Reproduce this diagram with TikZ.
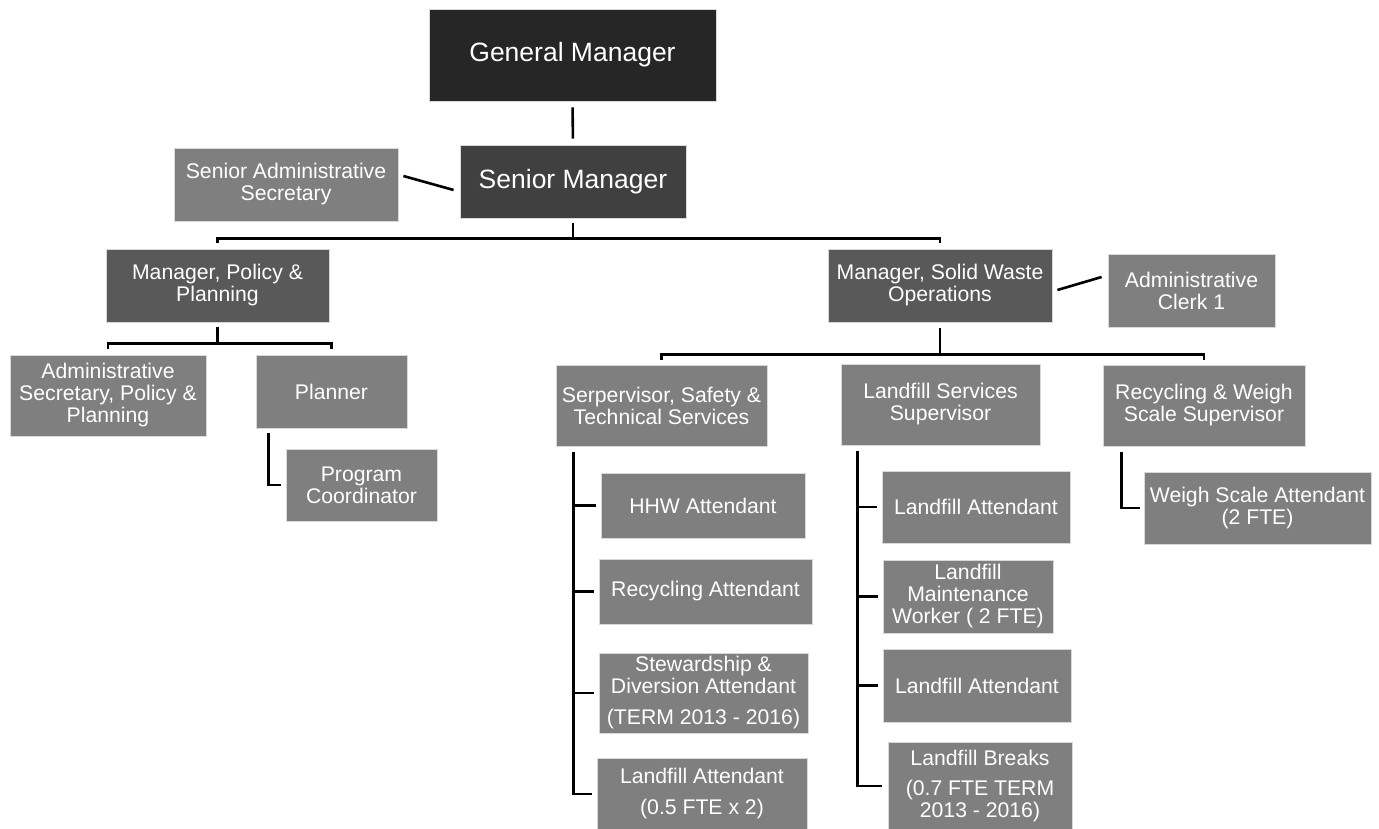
\documentclass[tikz,border=0pt]{standalone}
\usepackage{fontspec}
\setmainfont{Liberation Sans}
\usetikzlibrary{calc}
\definecolor{gtop}{RGB}{38,38,38}
\definecolor{gsen}{RGB}{64,64,64}
\definecolor{gmgr}{RGB}{89,89,89}
\definecolor{gpost}{RGB}{127,127,127}
\tikzset{post/.style={fill=gpost,draw=black!15,line width=0.8pt,text=white,align=center,
           inner sep=0pt,font={\fontsize{21.2}{22}\selectfont}},
         boss/.style={post,font={\fontsize{26.5}{28}\selectfont}},
         wh/.style 2 args={minimum width=#1pt,minimum height=#2pt},
         link/.style={black,line width=2.6pt}}

\begin{document}
\begin{tikzpicture}[x=1pt,y=-1pt]
    \useasboundingbox (0,0) rectangle (1379,829);
    % top of the chart
    \node[boss,fill=gtop,wh={287}{92}]  (gm)    at (572.5,55)    {General Manager};
    \node[boss,fill=gsen,wh={226}{73}]  (sm)    at (573,181.5)   {Senior Manager};
    \node[post,wh={224}{73}]            (sas)   at (286,184.5)   {Senior Administrative\\Secretary};
    \node[post,fill=gmgr,wh={223}{73}]  (mpp)   at (217.5,285.5) {Manager, Policy \&\\Planning};
    \node[post,fill=gmgr,wh={224}{73}]  (mswo)  at (940,285.5)   {Manager, Solid Waste\\Operations};
    \node[post,wh={167}{73}]            (clerk) at (1191.5,290.5) {Administrative\\Clerk 1};
    % policy & planning
    \node[post,wh={196}{81}] (aspp)    at (108,395.5)   {Administrative\\Secretary, Policy \&\\Planning};
    \node[post,wh={151}{73}] (planner) at (331.5,391.5) {Planner};
    \node[post,wh={151}{72}] (pc)      at (361.5,485)   {Program\\Coordinator};
    % solid waste operations
    \node[post,wh={211}{81}] (ssts) at (661.5,405.5) {Serpervisor, Safety \&\\Technical Services};
    \node[post,wh={199}{81}] (lss)  at (940.5,404.5) {Landfill Services\\Supervisor};
    \node[post,wh={202}{81}] (rwss) at (1204,405.5)  {Recycling \& Weigh\\Scale Supervisor};
    \node[post,wh={204}{65}] (hhw)   at (703,505.5)   {HHW Attendant};
    \node[post,wh={213}{65}] (recyc) at (705.5,591.5) {Recycling Attendant};
    \node[post,wh={209}{80}] (stew)  at (703.5,693)   {Stewardship \&\\Diversion Attendant\\[9pt](TERM 2013 - 2016)};
    \node[post,wh={210}{72}] (lahalf) at (702,794)    {Landfill Attendant\\[9pt](0.5 FTE x 2)};
    \node[post,wh={188}{72}] (laone) at (976,507)     {Landfill Attendant};
    \node[post,wh={170}{73}] (lmw)   at (968,596.5)   {Landfill\\Maintenance\\Worker ( 2 FTE)};
    \node[post,wh={188}{73}] (latwo) at (977,685.5)   {Landfill Attendant};
    \node[post,wh={184}{88}] (lb)    at (980,786)     {Landfill Breaks\\[8pt](0.7 FTE TERM\\2013 - 2016)};
    \node[post,wh={227}{72}] (wsa)   at (1257.5,508)  {Weigh Scale Attendant\\(2 FTE)};

    % connectors
    \draw[link,shorten <=6pt,shorten >=6pt] (gm.south) -- (sm.north);
    \draw[link] ($(sas.east)+(5,-8.5)$) -- ($(sm.west)+(-6,8.5)$);
    \draw[link] ($(mswo.east)+(5,4.5)$) -- ($(clerk.west)+(-6,-13.5)$);
    \draw[link] ($(sm.south)+(0,5)$) -- ++(0,16);
    \draw[link] ($(mpp.north)+(0,-6)$) -- ++(0,-4) -| ($(mswo.north)+(0,-6)$);
    \draw[link] ($(mpp.south)+(0,5)$) -- ++(0,17);
    \draw[link] ($(aspp.north)+(0,-6)$) -- ++(0,-5) -| ($(planner.north)+(0,-6)$);
    \draw[link] ($(planner.south west)+(13,5)$) |- ($(pc.west)+(-5,0)$);
    \draw[link] ($(mswo.south)+(0,6)$) -- ++(0,27);
    \draw[link] ($(ssts.north)+(0,-5)$) -- ++(0,-5) -| ($(rwss.north)+(0,-5)$);
    \draw[link] ($(rwss.south west)+(19,6)$) |- ($(wsa.west)+(-4,0)$);

    \coordinate (sspine) at ($(ssts.south west)+(18,6)$);
    \draw[link] (sspine) |- ($(lahalf.west)+(-5,0)$);
    \foreach \c in {hhw,recyc,stew}
      \draw[link] (sspine |- \c.west) -- ($(\c.west)+(-5,0)$);

    \coordinate (lspine) at ($(lss.south west)+(17,6)$);
    \draw[link] (lspine) |- ($(lb.west)+(-6,0)$);
    \foreach \c in {laone,lmw,latwo}
      \draw[link] (lspine |- \c.west) -- ($(\c.west)+(-5,0)$);
\end{tikzpicture}
\end{document}
